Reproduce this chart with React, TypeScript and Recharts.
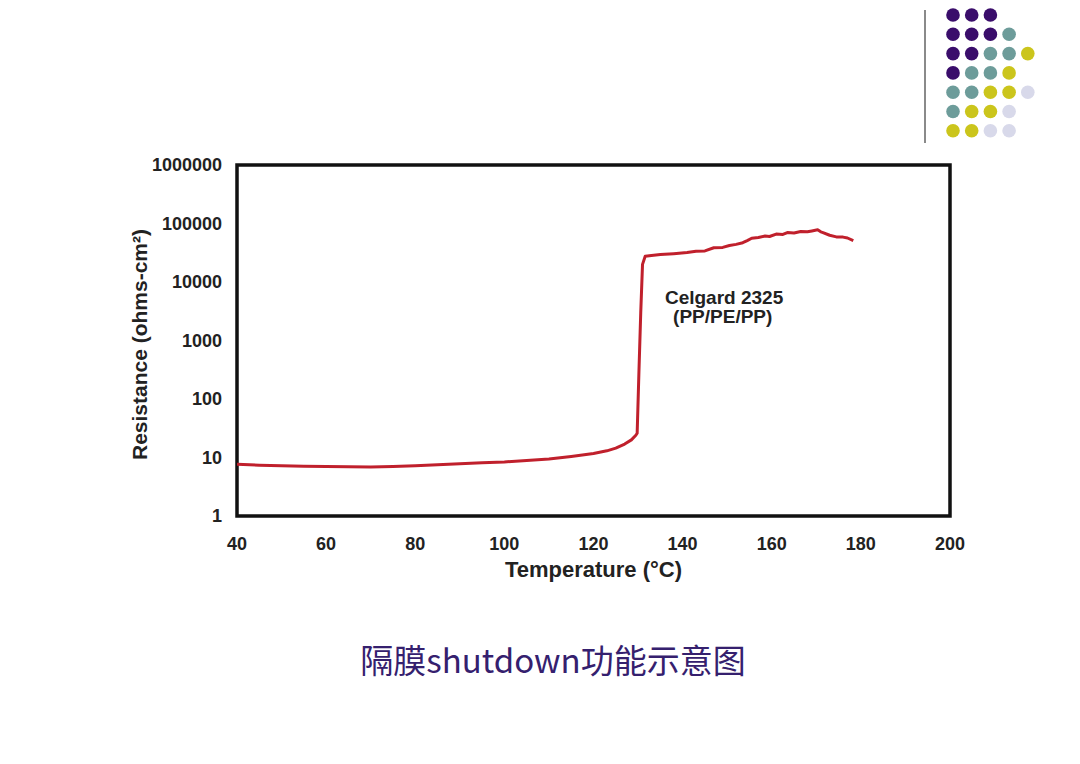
import React from "react";
import {
  LineChart,
  Line,
  XAxis,
  YAxis,
  ReferenceArea,
  ReferenceDot,
} from "recharts";

// temperature (°C) and resistance (ohms-cm²)
const temps = [
  40, 45, 50, 55, 60, 65, 70, 75, 80, 85, 90, 95, 100, 105, 110, 115, 120, 123,
  125, 127, 128.5, 129.5, 129.8, 130.2, 130.6, 131, 131.6, 133, 135, 138, 141,
  143, 145, 147, 149, 150.5, 152, 153.5, 154.5, 155.5, 157, 158.5, 159.5, 161,
  162.5, 163.5, 165, 166.5, 168, 169, 170.3, 171, 171.5, 173, 174.5, 176, 177,
  178.3,
];
const resistance = [
  7.7, 7.4, 7.2, 7.1, 7.0, 6.95, 6.9, 7.0, 7.2, 7.5, 7.8, 8.1, 8.4, 8.9, 9.4,
  10.4, 11.7, 13.0, 14.5, 17, 20, 24, 26, 300, 3000, 20000, 27500, 28500, 29500,
  30500, 31800, 33500, 34000, 38500, 39000, 42000, 44000, 47000, 51000, 56000,
  57500, 61000, 60000, 66000, 65000, 70000, 69000, 73000, 72000, 74500, 78000,
  72000, 70000, 63000, 59000, 58500, 56500, 51000,
];

const xTicks = [40, 60, 80, 100, 120, 140, 160, 180, 200];
const yTicks = [1, 10, 100, 1000, 10000, 100000, 1000000];

const notes = [
  { t: 149.3, r: 5400, text: "Celgard 2325" },
  { t: 149.0, r: 2560, text: "(PP/PE/PP)" },
];

// slide decoration, top right corner
const P = "#3a0d6b";
const T = "#6d9c9a";
const Y = "#cbc51c";
const L = "#d8d9ea";
const dotRows = [
  [P, P, P],
  [P, P, P, T],
  [P, P, T, T, Y],
  [P, T, T, Y],
  [T, T, Y, Y, L],
  [T, Y, Y, L],
  [Y, Y, L, L],
];

const data = temps.map((t, i) => ({ t, r: resistance[i] }));

const font = "'Liberation Sans', Arial, sans-serif";
const tickStyle = { fill: "#222", fontSize: 18, fontWeight: 700, fontFamily: font };
const titleStyle = { fill: "#222", fontSize: 22, fontWeight: 700, fontFamily: font };

export default function App() {
  return (
    <div
      style={{
        position: "absolute",
        left: 0,
        top: 0,
        width: 1080,
        height: 764,
        background: "#fff",
        fontFamily: font,
      }}
    >
      <svg
        width={140}
        height={150}
        style={{ position: "absolute", left: 915, top: 0 }}
      >
        <line x1={10} y1={10} x2={10} y2={143} stroke="#8a8a8a" strokeWidth={2} />
        {dotRows.map((row, ri) =>
          row.map((c, ci) => (
            <circle
              key={`${ri}-${ci}`}
              cx={38 + ci * 18.7}
              cy={15 + ri * 19.3}
              r={6.8}
              fill={c}
            />
          ))
        )}
      </svg>

      <LineChart
        width={1080}
        height={620}
        data={data}
        margin={{ top: 165, right: 130, left: 127, bottom: 34 }}
      >
        <XAxis
          type="number"
          dataKey="t"
          domain={[40, 200]}
          ticks={xTicks}
          allowDataOverflow
          axisLine={false}
          tickLine={false}
          tickSize={8}
          tickMargin={13}
          height={70}
          tick={tickStyle}
          label={{
            value: "Temperature (°C)",
            position: "insideBottom",
            offset: 9,
            style: titleStyle,
          }}
        />
        <YAxis
          type="number"
          scale="log"
          domain={[1, 1000000]}
          ticks={yTicks}
          allowDataOverflow
          axisLine={false}
          tickLine={false}
          tickSize={8}
          tickMargin={7}
          width={110}
          tick={tickStyle}
          label={{
            value: "Resistance (ohms-cm²)",
            angle: -90,
            position: "insideLeft",
            offset: 13,
            dy: 4,
            style: { ...titleStyle, fontSize: 21, textAnchor: "middle" },
          }}
        />
        <ReferenceArea
          x1={40}
          x2={200}
          y1={1}
          y2={1000000}
          fill="none"
          stroke="#111"
          strokeWidth={3.5}
        />
        <Line
          type="linear"
          dataKey="r"
          stroke="#c0202c"
          strokeWidth={3}
          strokeLinejoin="round"
          dot={false}
          isAnimationActive={false}
        />
        {notes.map((n) => (
          <ReferenceDot
            key={n.text}
            x={n.t}
            y={n.r}
            r={0}
            fill="none"
            stroke="none"
            label={{
              value: n.text,
              position: "center",
              style: { fill: "#222", fontSize: 19, fontWeight: 700, fontFamily: font },
            }}
          />
        ))}
      </LineChart>

      <div
        style={{
          position: "absolute",
          left: 0,
          top: 637,
          width: 1106,
          textAlign: "center",
          fontFamily: "'Noto Sans CJK SC', 'Noto Sans', sans-serif",
          fontSize: 33,
          lineHeight: "44px",
          color: "#35206e",
        }}
      >
        隔膜shutdown功能示意图
      </div>
    </div>
  );
}
